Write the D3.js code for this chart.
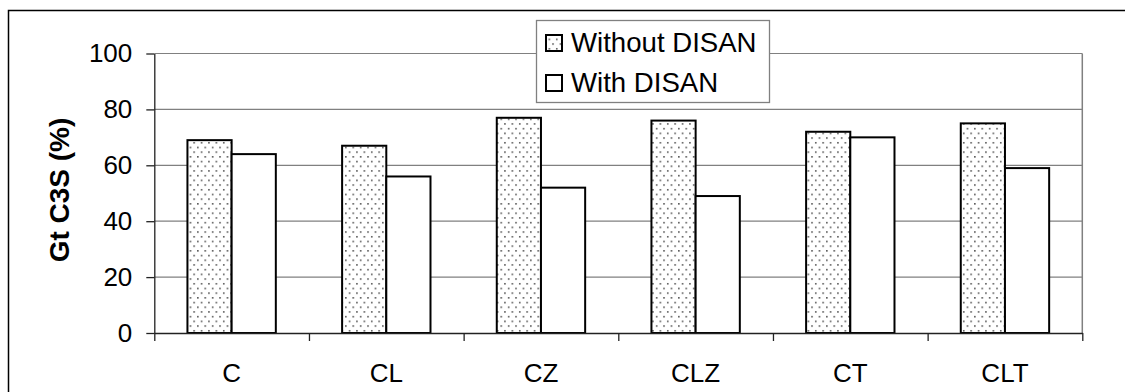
<!DOCTYPE html>
<html>
<head>
<meta charset="utf-8">
<script src="https://cdn.jsdelivr.net/npm/d3@7"></script>
<style>
  html, body { margin: 0; padding: 0; background: #fff; }
  svg { display: block; font-family: "Liberation Sans", Arial, sans-serif; }
</style>
</head>
<body>
<svg id="chart" width="1125" height="392"></svg>
<script>
// Mixes and their C3S values with and without DISAN
const categories = ["C", "CL", "CZ", "CLZ", "CT", "CLT"];
const withoutDisan = [69, 67, 77, 76, 72, 75];
const withDisan = [64, 56, 52, 49, 70, 59];
const seriesNames = ["Without DISAN", "With DISAN"];
const yTicks = [0, 20, 40, 60, 80, 100];

const svg = d3.select("#chart");

// dotted fill used for the first series
const defs = svg.append("defs");
const pat = defs.append("pattern")
  .attr("id", "dots")
  .attr("patternUnits", "userSpaceOnUse")
  .attr("width", 7.4).attr("height", 9.4);
pat.append("rect").attr("width", 7.4).attr("height", 9.4).attr("fill", "#fff");
pat.append("rect").attr("x", 1).attr("y", 1).attr("width", 1.5).attr("height", 1.5).attr("fill", "#444");
pat.append("rect").attr("x", 4.7).attr("y", 5.7).attr("width", 1.5).attr("height", 1.5).attr("fill", "#444");

// outer chart frame (runs past the right and bottom edges)
svg.append("rect")
  .attr("x", 8.5).attr("y", 10.5)
  .attr("width", 1300).attr("height", 600)
  .attr("fill", "none").attr("stroke", "#000").attr("stroke-width", 1.5);

const plotLeft = 154.3, plotRight = 1082.3, plotTop = 53.5, plotBottom = 333;

const y = d3.scaleLinear().domain([0, 100]).range([plotBottom, plotTop]);
const x = d3.scaleBand().domain(categories).range([plotLeft, plotRight]).padding(0);
const xEdge = d3.scaleLinear().domain([0, categories.length]).range([plotLeft, plotRight]);

// bar sizing: two bars per group with a gap of 1.5 bar widths
const barW = x.bandwidth() / 3.5;
const groupOffset = barW * 0.75;

// gridlines
svg.append("g").selectAll("line")
  .data(yTicks.filter(d => d > 0))
  .join("line")
  .attr("x1", plotLeft).attr("x2", plotRight)
  .attr("y1", d => y(d)).attr("y2", d => y(d))
  .attr("stroke", "#808080").attr("stroke-width", 1.2);

// plot area right border
svg.append("line")
  .attr("x1", plotRight).attr("x2", plotRight)
  .attr("y1", plotTop).attr("y2", plotBottom)
  .attr("stroke", "#808080").attr("stroke-width", 1.5);

// bars
const rows = categories.map((c, i) => ({ c, vals: [withoutDisan[i], withDisan[i]] }));
const g = svg.append("g");
rows.forEach(r => {
  r.vals.forEach((v, k) => {
    g.append("rect")
      .attr("x", x(r.c) + groupOffset + k * barW)
      .attr("y", y(v))
      .attr("width", barW)
      .attr("height", y(0) - y(v))
      .attr("fill", k === 0 ? "url(#dots)" : "#fff")
      .attr("stroke", "#000")
      .attr("stroke-width", 2);
  });
});

// y axis
const yAxis = svg.append("g")
  .attr("transform", `translate(${plotLeft},0)`)
  .call(d3.axisLeft(y).tickValues(yTicks).tickSize(8).tickSizeOuter(0).tickPadding(14));
yAxis.select(".domain").attr("stroke", "#222").attr("stroke-width", 1.3);
yAxis.selectAll(".tick line").attr("stroke", "#222").attr("stroke-width", 1.3);
yAxis.selectAll(".tick text")
  .attr("font-size", 26).attr("fill", "#000")
  .attr("font-family", "Liberation Sans, Arial, sans-serif");

// x axis: boundary ticks
const xTickAxis = svg.append("g")
  .attr("transform", `translate(0,${plotBottom})`)
  .call(d3.axisBottom(xEdge).tickValues(d3.range(categories.length + 1)).tickFormat("").tickSize(8).tickSizeOuter(0));
xTickAxis.select(".domain").attr("stroke", "#222").attr("stroke-width", 1.3);
xTickAxis.selectAll(".tick line").attr("stroke", "#222").attr("stroke-width", 1.3);

// x axis: category labels
const xLabelAxis = svg.append("g")
  .attr("transform", `translate(0,${plotBottom})`)
  .call(d3.axisBottom(x).tickSize(0).tickPadding(31));
xLabelAxis.select(".domain").remove();
xLabelAxis.selectAll(".tick text")
  .attr("font-size", 26).attr("fill", "#000")
  .attr("font-family", "Liberation Sans, Arial, sans-serif");

// y axis title
svg.append("text")
  .attr("transform", "translate(59,190) rotate(-90)")
  .attr("text-anchor", "middle")
  .attr("dominant-baseline", "central")
  .attr("font-size", 28).attr("font-weight", "bold")
  .text("Gt C3S (%)");

// legend
const lg = svg.append("g");
lg.append("rect")
  .attr("x", 536.5).attr("y", 20.5).attr("width", 233).attr("height", 82)
  .attr("fill", "#fff").attr("stroke", "#808080").attr("stroke-width", 1.3);
seriesNames.forEach((name, i) => {
  const yy = 35 + i * 40;
  lg.append("rect")
    .attr("x", 546).attr("y", yy).attr("width", 16).attr("height", 16)
    .attr("fill", i === 0 ? "url(#dots)" : "#fff")
    .attr("stroke", "#000").attr("stroke-width", 2);
  lg.append("text")
    .attr("x", 571).attr("y", 52 + i * 40)
    .attr("font-size", 27.6)
    .text(name);
});
</script>
</body>
</html>
